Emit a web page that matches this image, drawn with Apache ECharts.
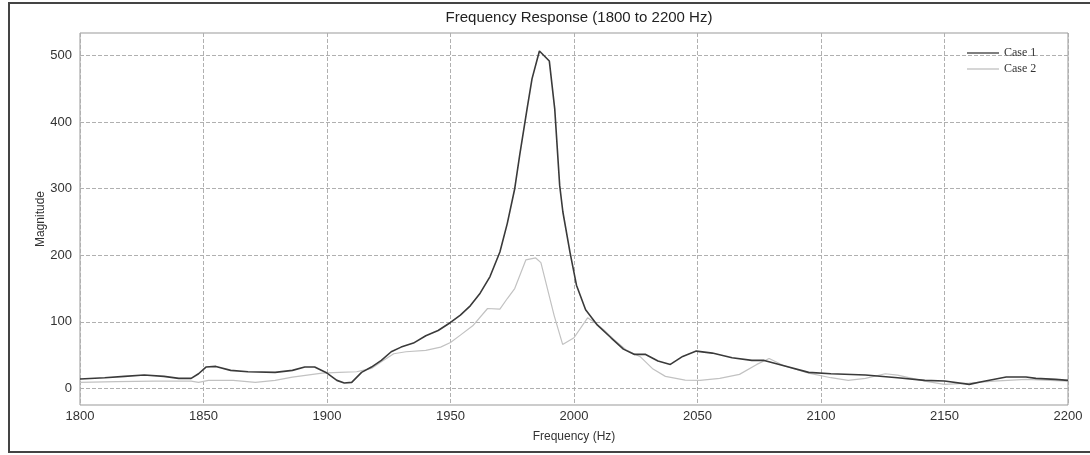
<!DOCTYPE html>
<html>
<head>
<meta charset="utf-8">
<script src="https://cdn.jsdelivr.net/npm/echarts@6/dist/echarts.min.js"></script>
<style>
html,body{margin:0;padding:0;background:#fff;}
#chart{width:1090px;height:455px;}
</style>
</head>
<body>
<div id="chart"></div>
<script>
// Frequency (Hz), Magnitude pairs
var case1 = [
[1800,14],[1810,16],[1818,18],[1826,20],[1834,18],[1840,15],[1845,15],[1848,22],[1851,32],[1855,33],
[1861,27],[1868,25],[1879,24],[1886,27],[1891,32],[1895,32],[1900,23],[1904,12],[1907,8],[1910,9],
[1914,24],[1918,32],[1922,42],[1926,55],[1930,62],[1935,68],[1940,79],[1945,87],[1950,99],[1954,110],
[1958,124],[1962,143],[1966,168],[1970,205],[1973,248],[1976,300],[1978,350],[1981,420],[1983,465],[1986,507],
[1990,492],[1992.2,420],[1994.2,305],[1995.5,265],[1998.4,204],[2001,155],[2004.7,118],[2009.5,95],[2015,76],[2020,59],
[2024.5,51],[2029,51],[2034,41],[2039,36],[2044,48],[2049.5,56],[2056,53],[2064,46],[2072,42],[2077,42],
[2085,34],[2095,24],[2104,22],[2118,20],[2131,16],[2142,12],[2150,11],[2160,6],[2165,10],[2175,17],
[2183,17],[2187,15],[2195,13.5],[2200,12]
];
var case2 = [
[1800,9],[1815,10],[1830,11],[1845,11],[1848,9],[1852,12],[1862,12],[1871,9],[1879,12],[1886,17],
[1892,20],[1898,23],[1905,24],[1912,25],[1918,30],[1922,40],[1927,52],[1932,55],[1940,57],[1946,62],
[1950,69],[1954,80],[1959,94],[1965,120],[1970,119],[1973,135],[1976,150],[1980.5,193],[1984.5,196],[1986.6,189],
[1992,109],[1995.4,66],[2000,76],[2005.5,106],[2008,100],[2012,88],[2016,74],[2021,58],[2027,47],[2032,29],
[2037,18],[2045,12.5],[2051,12],[2059,15],[2067,21],[2074,36],[2079,45],[2085,34],[2095,23],[2104,16],
[2111,12],[2118,15],[2126,22],[2131,20],[2142,11],[2150,6],[2160,8],[2170,11],[2183,13.5],[2200,11]
];
var seriesNames = ['Case 1', 'Case 2'];
var yTicks = [0, 100, 200, 300, 400, 500];

var chart = echarts.init(document.getElementById('chart'));
var gridLine = {show: true, lineStyle: {color: '#b0b0b0', width: 1, type: [4, 2]}};
chart.setOption({
  animation: false,
  backgroundColor: '#fff',
  title: {
    text: 'Frequency Response (1800 to 2200 Hz)',
    left: 574, top: 5, textAlign: 'center',
    textStyle: {fontFamily: 'Liberation Sans', fontSize: 15, fontWeight: 'normal', color: '#222'}
  },
  legend: {
    orient: 'vertical', left: 962, top: 42, itemGap: 4,
    itemWidth: 32, itemHeight: 1.5, icon: 'rect',
    textStyle: {fontFamily: 'Liberation Serif', fontSize: 12, color: '#333'},
    data: seriesNames
  },
  grid: {left: 80, right: 22, top: 33, bottom: 50, show: true, borderColor: '#999', borderWidth: 1},
  xAxis: {
    type: 'value', min: 1800, max: 2200, interval: 50,
    name: 'Frequency (Hz)', nameLocation: 'middle', nameGap: 26, nameMoveOverlap: false,
    nameTextStyle: {fontFamily: 'Liberation Sans', fontSize: 12, color: '#333'},
    axisLine: {show: false}, axisTick: {show: false},
    axisLabel: {fontFamily: 'Liberation Sans', fontSize: 13, color: '#333', margin: 5,
                formatter: function (v) { return String(v); }},
    splitLine: gridLine
  },
  yAxis: {
    type: 'value', min: -25, max: 534,
    name: 'Magnitude', nameLocation: 'middle', nameGap: 33, nameMoveOverlap: false,
    nameTextStyle: {fontFamily: 'Liberation Sans', fontSize: 12, color: '#333'},
    axisLine: {show: false},
    axisTick: {show: false, customValues: yTicks},
    axisLabel: {fontFamily: 'Liberation Sans', fontSize: 13, color: '#333', margin: 8, customValues: yTicks},
    splitLine: gridLine
  },
  graphic: [{
    type: 'polyline', silent: true,
    shape: {points: [[1090, 3], [9, 3], [9, 452], [1090, 452]]},
    style: {stroke: '#444', lineWidth: 2, fill: null}
  }],
  series: [
    {name: seriesNames[0], type: 'line', data: case1, showSymbol: false, symbol: 'none', z: 3,
     lineStyle: {color: '#3a3a3a', width: 1.6}, itemStyle: {color: '#555'}},
    {name: seriesNames[1], type: 'line', data: case2, showSymbol: false, symbol: 'none', z: 2,
     lineStyle: {color: '#c2c2c2', width: 1.2}, itemStyle: {color: '#c8c8c8'}}
  ]
});
</script>
</body>
</html>
